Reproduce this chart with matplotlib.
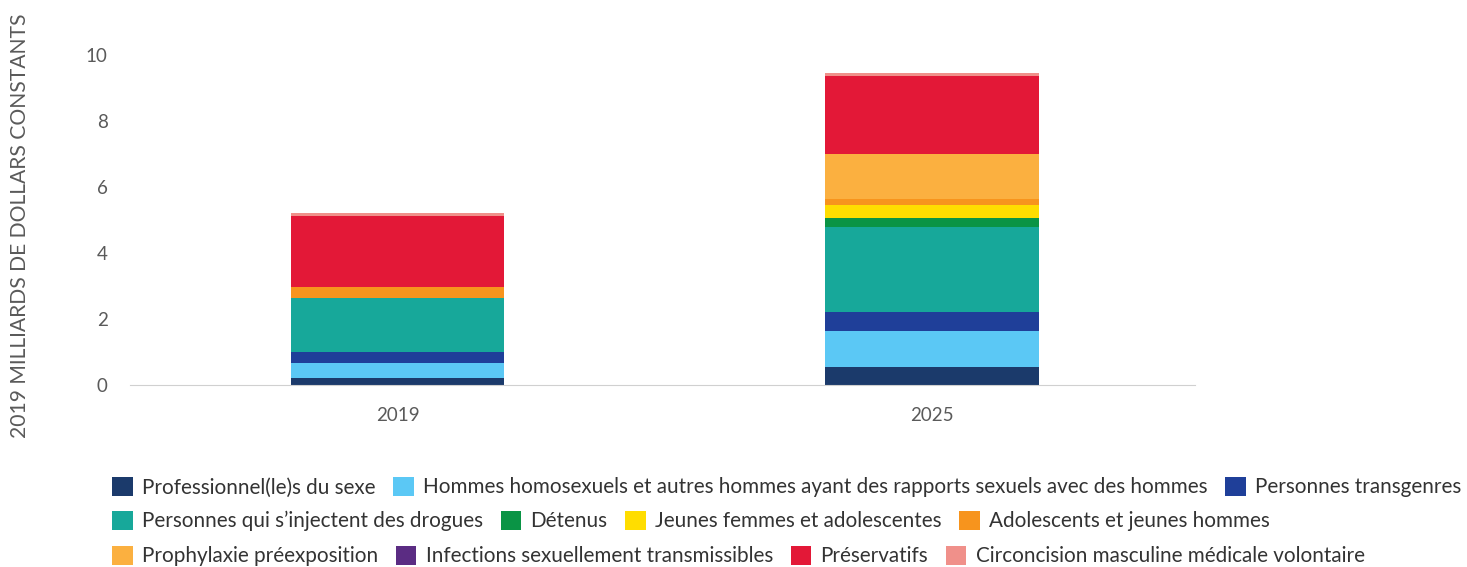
import matplotlib.pyplot as plt
from matplotlib.patches import Patch

plt.rcParams['font.family'] = ['Lato', 'DejaVu Sans']

years = ["2019", "2025"]
categories = [
    "Professionnel(le)s du sexe",
    "Hommes homosexuels et autres hommes ayant des rapports sexuels avec des hommes",
    "Personnes transgenres",
    "Personnes qui s\u2019injectent des drogues",
    "Détenus",
    "Jeunes femmes et adolescentes",
    "Adolescents et jeunes hommes",
    "Prophylaxie préexposition",
    "Infections sexuellement transmissibles",
    "Préservatifs",
    "Circoncision masculine médicale volontaire",
]
values_2019 = [0.20, 0.45, 0.35, 1.62, 0.0, 0.0, 0.33, 0.0, 0.0, 2.16, 0.11]
values_2025 = [0.52, 1.10, 0.57, 2.59, 0.28, 0.40, 0.17, 1.36, 0.0, 2.37, 0.08]
colors = ["#1b3a6b", "#5bc8f5", "#1f3f99", "#17a89a", "#0a9445", "#ffdd00",
          "#f7941d", "#fbb040", "#5b2c83", "#e31837", "#f0908a"]
legend_rows = [[0, 1, 2], [3, 4, 5, 6], [7, 8, 9, 10]]


def main():
    fig = plt.figure(figsize=(14.67, 5.67), dpi=100)
    ax = fig.add_axes([130 / 1467, (567 - 384.5) / 567, 1065 / 1467,
                       329.5 / 567])
    x = list(range(len(years)))
    bottom = [0.0, 0.0]
    for i, cat in enumerate(categories):
        vals = [values_2019[i], values_2025[i]]
        ax.bar(x, vals, width=0.4, bottom=bottom, color=colors[i],
               linewidth=0, label=cat)
        bottom = [b + v for b, v in zip(bottom, vals)]

    ax.set_xlim(-0.501, 1.493)
    ax.set_ylim(0, 10)
    ax.set_yticks([0, 2, 4, 6, 8, 10])
    ax.set_xticks(x)
    ax.set_xticklabels(years)
    for s in ["top", "right", "left"]:
        ax.spines[s].set_visible(False)
    ax.spines["bottom"].set_color("#d0d0d0")
    ax.tick_params(axis="both", length=0, labelsize=13.5, colors="#5a5a5a")
    ax.tick_params(axis="y", pad=16)
    ax.tick_params(axis="x", pad=16)

    fig.text(20 / 1467, 1 - 226 / 567, "2019 MILLIARDS DE DOLLARS CONSTANTS",
             rotation=90, ha="center", va="center", fontsize=15.2,
             color="#5a5a5a")

    row_y = [487, 521, 556]
    for row, y in zip(legend_rows, row_y):
        handles = [Patch(facecolor=colors[i], edgecolor="none")
                   for i in row]
        labels = [categories[i] for i in row]
        leg = fig.legend(handles, labels, loc="center left",
                         bbox_to_anchor=(112 / 1467, 1 - y / 567),
                         ncol=len(row), frameon=False, fontsize=14.9,
                         handlelength=1.0, handleheight=1.1,
                         handletextpad=0.45, columnspacing=0.85,
                         borderpad=0, borderaxespad=0)
        for t in leg.get_texts():
            t.set_color("#333333")

    fig.savefig("out.png", dpi=100)


if __name__ == "__main__":
    main()
